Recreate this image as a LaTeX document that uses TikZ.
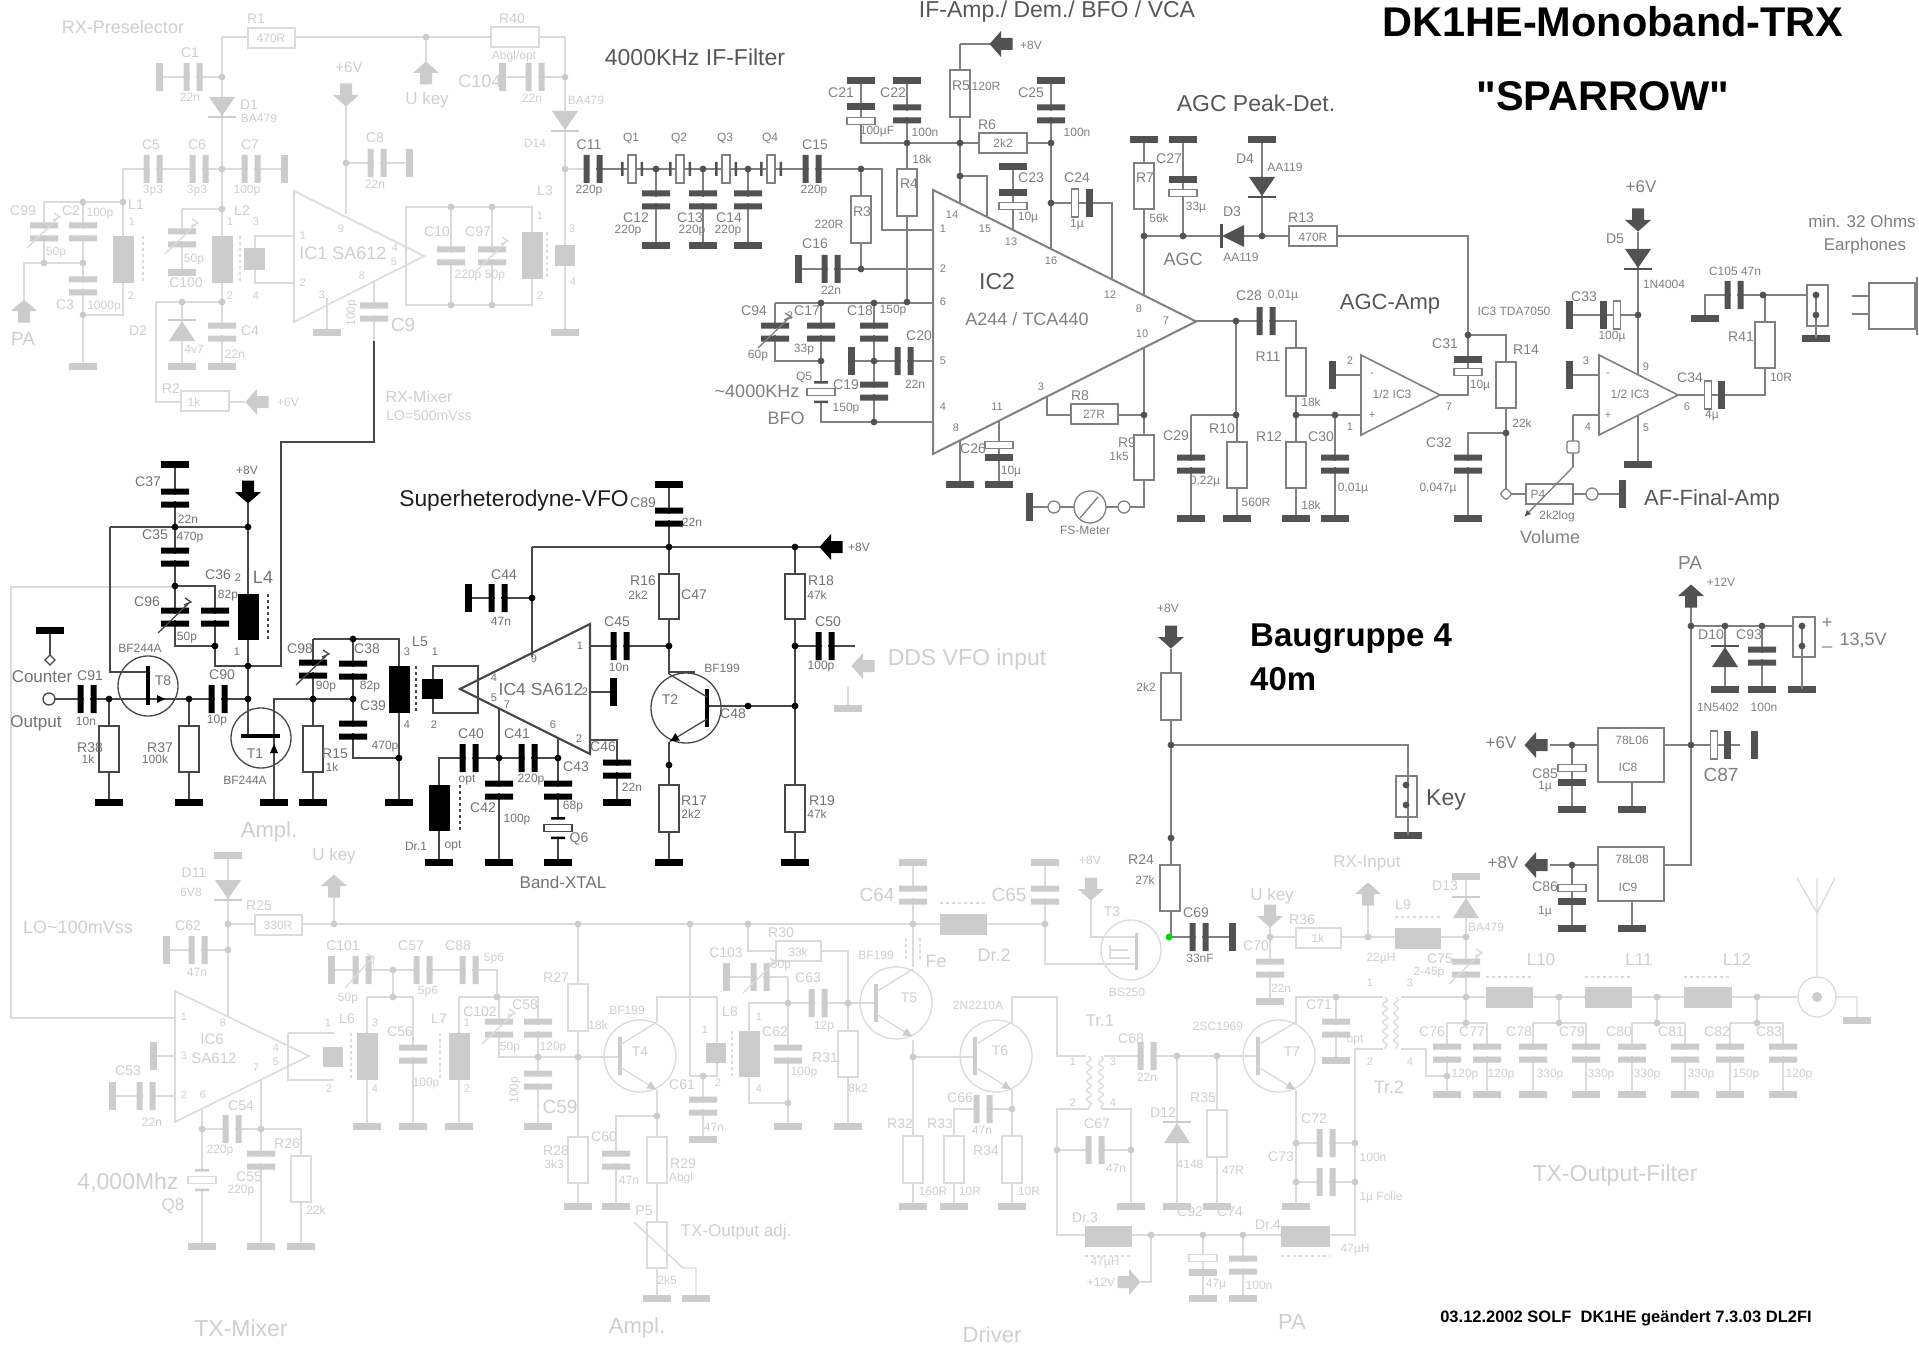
\documentclass[tikz,border=0pt]{standalone}
\usepackage{fontspec}
\setmainfont{Liberation Sans}
\newfontfamily\qfont{Liberation Sans}
\usetikzlibrary{arrows.meta,decorations.pathmorphing}
\newcounter{nn}
\newcommand\fs[1]{\fontsize{#1}{#1}\selectfont}
\newcommand\Hc[1]{\textcolor{black!66}{#1}}
\newcommand\Lb[4]{\stepcounter{nn}\node[lbl,font=\fs{#1}] (n\thenn) at (#2,#3) {#4};}
\newcommand\Rf[3]{\Lb{14}{#1}{#2}{#3}}
\newcommand\Vl[3]{\Lb{12}{#1}{#2}{#3}}
\newcommand\Pn[3]{\Lb{11}{#1}{#2}{#3}}
\newcommand\W[1]{\draw[wire] #1;}
\newcommand\Dots[1]{\foreach \p in {#1} \fill[cfil] \p circle (3.4);}
\newcommand\Gn[2]{\fill[cfil] (#1-14,#2-3.5) rectangle (#1+14,#2+3.5);}
\newcommand\Gv[2]{\fill[cfil] (#1-3.5,#2-14) rectangle (#1+3.5,#2+14);}
\newcommand\Cv[2]{\fill[white] (#1-14,#2-3) rectangle (#1+14,#2+3);\fill[cfil] (#1-14,#2-9.5) rectangle (#1+14,#2-3.5) (#1-14,#2+3.5) rectangle (#1+14,#2+9.5);}
\newcommand\Ch[2]{\fill[white] (#1-3,#2-14) rectangle (#1+3,#2+14);\fill[cfil] (#1-9.5,#2-14) rectangle (#1-3.5,#2+14) (#1+3.5,#2-14) rectangle (#1+9.5,#2+14);}
\newcommand\Ev[3]{\filldraw[wire,fill=white] (#1-14,#2-3.5) rectangle (#1+14,#2+3.5);\fill[cfil] (#1-14,#3-3.5) rectangle (#1+14,#3+3.5);}
\newcommand\Eh[3]{\filldraw[wire,fill=white] (#1-3.5,#3-14) rectangle (#1+3.5,#3+14);\fill[cfil] (#2-3.5,#3-14) rectangle (#2+3.5,#3+14);}
\newcommand\Rv[3]{\filldraw[wire,fill=white] (#1-10,#2) rectangle (#1+10,#3);}
\newcommand\Rh[3]{\filldraw[wire,fill=white] (#1,#3-10) rectangle (#2,#3+10);}
\newcommand\Lv[3]{\fill[cfil] (#1-10.5,#2) rectangle (#1+10.5,#3);}
\newcommand\Lh[3]{\fill[cfil] (#1,#3-10.5) rectangle (#2,#3+10.5);}
\newcommand\Da[3]{\draw[wire,dashed] (#1,#2)--(#1,#3);}
\newcommand\Dh[3]{\draw[wire,dashed] (#1,#3)--(#2,#3);}
\newcommand\Ddn[2]{\fill[cfil] (#1-13,#2)--(#1+13,#2)--(#1,#2+19)--cycle;\fill[cfil] (#1-14,#2+19) rectangle (#1+14,#2+21);}
\newcommand\Dup[2]{\fill[cfil] (#1-13,#2+20)--(#1+13,#2+20)--(#1,#2)--cycle;\fill[cfil] (#1-14,#2-2) rectangle (#1+14,#2);}
\newcommand\Pw[3]{\fill[cfil,shift={(#1,#2)},rotate=#3] (-6,-11.5)--(6,-11.5)--(6,0)--(13,0)--(0,11.5)--(-13,0)--(-6,0)--cycle;}
\newcommand\Trim[2]{\draw[wire] (#1-17,#2+16)--(#1+14,#2-14) (#1+10,#2-19)--(#1+16,#2-15)--(#1+9,#2-12);}
\newcommand\Qh[2]{\filldraw[wire,fill=white] (#1-4,#2-14) rectangle (#1+4,#2+14);\fill[cfil] (#1-11,#2-7) rectangle (#1-8.5,#2+7) (#1+8.5,#2-7) rectangle (#1+11,#2+7);}
\newcommand\Qv[2]{\fill[white] (#1-9,#2-9) rectangle (#1+9,#2+9);\filldraw[wire,fill=white] (#1-14,#2-3.5) rectangle (#1+14,#2+3.5);\fill[cfil] (#1-7,#2-11) rectangle (#1+7,#2-8.5) (#1-7,#2+8.5) rectangle (#1+7,#2+11);}
% transistor: centre, radius, bar x, wire x
\newcommand\TR[5]{\draw[wire] (#1,#2) circle (#3);\fill[cfil] (#4-2,#2-19) rectangle (#4+2,#2+19);\draw[wire] (#4,#2-11)--(#5,#2-34);\draw[wire,-{Latex[length=10pt,width=9pt,color=cfil]}] (#4,#2+11)--(#5,#2+34);}
\newcommand\Coil[3]{\draw[wire,decorate,decoration={snake,amplitude=2.5pt,segment length=9pt}] (#1,#2)--(#1,#3);}
\newcommand\Light{\colorlet{clin}{black!14}\colorlet{cfil}{black!20}\colorlet{ctxt}{black!19}}
\newcommand\Dark{\colorlet{clin}{black!50}\colorlet{cfil}{black!68}\colorlet{ctxt}{black!50}}
\newcommand\Blk{\colorlet{clin}{black!72}\colorlet{cfil}{black}\colorlet{ctxt}{black!55}}
\colorlet{clin}{black}\colorlet{cfil}{black}\colorlet{ctxt}{black}
\tikzset{wire/.style={draw=clin,line width=1.3pt},ic/.style={draw=clin,line width=1.6pt,line join=miter},lbl/.style={inner sep=0pt,text=ctxt,anchor=center}}
\begin{document}
\begin{tikzpicture}[x=1pt,y=-1pt]
\useasboundingbox (0,0) rectangle (1919,1348);
\fill[white] (0,0) rectangle (1919,1348);
%% ---------- RX preselector + mixer (light)
\begin{scope}
\Light
\W{(222,37)--(491,37) (539,37)--(565,37)--(565,332)}
\W{(222,37)--(222,302) (426,37)--(426,85)}
\W{(159,77)--(222,77) (502,77)--(565,77)}
\W{(123,206)--(123,169)--(284,169)}
\W{(44,202)--(123,202) (44,202)--(44,263) (83,202)--(83,366)}
\W{(24,300)--(24,263)--(83,263) (83,315)--(123,315)--(123,283) (123,202)--(123,236)}
\W{(182,209)--(222,209) (182,209)--(182,273)}
\W{(156,302)--(222,302) (156,302)--(156,402)--(181,402) (229,402)--(245,402)}
\W{(182,302)--(182,366) (222,302)--(222,366)}
\W{(294,236)--(255,236)--(255,283)--(294,283)}
\W{(327,298)--(327,332) (346,214)--(346,106) (346,163)--(409,163)}
\W{(406,207)--(532,207)--(532,305)--(406,305)--cycle (451,207)--(451,305) (492,207)--(492,305)}
\W{(374,282)--(374,341)}
\W{(565,169)--(584,169)}
\W{(175,587)--(11,587)--(11,1018)--(175,1018)}
\draw[ic] (294,191)--(294,322)--(424,256)--cycle;
\Rh{248}{295}{38}\Rh{491}{539}{37}
\Ch{193}{77}\Gv{159}{77}\Ch{535}{77}\Gv{502}{77}
\Ddn{222}{97}\Ddn{565}{111}
\Ch{153}{169}\Ch{199}{169}\Ch{251}{169}\Gv{284}{169}
\Cv{44}{232}\Trim{44}{232}\Cv{83}{232}\Cv{83}{286}\Gn{83}{366}
\Lv{123}{236}{283}\Da{143}{236}{283}
\Cv{182}{238}\Trim{182}{238}\Gn{182}{273}
\Lv{222}{236}{283}\Da{240}{236}{283}
\Dup{182}{321}\Gn{182}{366}\Cv{222}{332}\Gn{222}{366}
\Rh{181}{229}{401}\Pw{257}{402}{-90}\Pw{24}{311}{180}\Pw{426}{73}{180}\Pw{346}{95}{0}
\fill[cfil] (244,248) rectangle (265,270);
\Gn{327}{332}\Ch{377}{163}\Gv{409}{163}
\Cv{451}{256}\Cv{492}{256}\Trim{492}{256}
\Lv{532}{232}{279}\Da{547}{232}{279}
\fill[cfil] (555,245) rectangle (575,266);\Gn{565}{332}
\Cv{374}{312}
\Dots{(426,37),(222,77),(565,77),(222,169),(222,209),(222,302),(182,302),(83,202),(123,202),(44,263),(83,263),(83,315),(346,163),(451,207),(492,207),(451,305),(492,305),(565,169)}
\Lb{18}{123}{27}{RX-Preselector}
\Rf{256}{19}{R1}\Vl{271}{38}{470R}\Rf{512}{19}{R40}\Vl{514}{56}{Abgl/opt}
\Rf{190}{53}{C1}\Vl{190}{97}{22n}\Rf{249}{105}{D1}\Vl{259}{118}{BA479}
\Rf{151}{145}{C5}\Vl{153}{191}{3p3}\Rf{197}{145}{C6}\Vl{197}{191}{3p3}\Rf{250}{145}{C7}\Vl{247}{191}{100p}
\Rf{23}{211}{C99}\Rf{71}{211}{C2}\Vl{100}{214}{100p}\Vl{56}{253}{50p}\Rf{65}{305}{C3}\Vl{104}{307}{1000p}
\Rf{136}{205}{L1}\Pn{132}{222}{1}\Pn{131}{296}{2}
\Lb{19}{23}{339}{PA}
\Rf{242}{211}{L2}\Pn{230}{222}{1}\Pn{256}{222}{3}\Pn{230}{296}{2}\Pn{256}{296}{4}
\Rf{186}{283}{C100}\Vl{194}{260}{50p}\Rf{138}{331}{D2}\Vl{194}{349}{4v7}\Rf{250}{331}{C4}\Vl{235}{354}{22n}
\Rf{171}{389}{R2}\Vl{194}{402}{1k}\Vl{288}{402}{+6V}
\Lb{18}{343}{253}{IC1 SA612}
\Pn{303}{236}{1}\Pn{303}{283}{2}\Pn{341}{229}{9}\Pn{395}{248}{4}\Pn{394}{262}{5}\Pn{362}{276}{8}\Pn{322}{295}{3}
\Lb{15}{349}{67}{+6V}\Rf{375}{138}{C8}\Vl{375}{184}{22n}
\Lb{17}{427}{100}{U key}\Lb{18}{480}{81}{C104}\Vl{532}{98}{22n}\Vl{586}{100}{BA479}\Vl{535}{143}{D14}
\Rf{437}{232}{C10}\Rf{478}{232}{C97}\Vl{468}{276}{220p}\Vl{495}{276}{50p}\Pn{540}{216}{1}\Pn{540}{296}{2}
\Rf{545}{191}{L3}\Pn{572}{229}{3}\Pn{573}{282}{4}
\stepcounter{nn}\node[lbl,font=\fs{12},rotate=90] (n\thenn) at (352,313) {100p};
\Lb{19}{403}{325}{C9}\Lb{16}{419}{397}{RX-Mixer}\Lb{14}{429}{416}{LO=500mVss}
%% ---------- TX section (light)
\W{(228,855)--(228,1016) (166,950)--(228,950) (228,924)--(255,924) (302,924)--(913,924) (334,897)--(334,924)}
\W{(175,1056)--(153,1056) (175,1096)--(112,1096)}
\W{(288,1033)--(334,1033) (288,1033)--(288,1080)--(334,1080)}
\W{(367,997)--(367,1126) (367,997)--(413,997)--(413,1126) (393,997)--(393,970) (331,970)--(497,970)--(497,997)}
\W{(459,997)--(459,1126) (459,997)--(538,997)--(538,1126) (499,997)--(499,1057)--(620,1057) (578,924)--(578,1206)}
\W{(657,1022)--(657,997)--(717,997)--(717,1076)--(690,1076)--(690,924) (703,1076)--(703,1139)}
\W{(657,1090)--(657,1298) (657,1116)--(616,1116)--(616,1206)}
\W{(634,1222)--(683,1268)--(696,1268)--(696,1298)}
\W{(749,1031)--(749,1003)--(848,1003)--(848,1126) (749,1077)--(749,1103)--(788,1103) (788,977)--(788,1126) (726,977)--(788,977)}
\W{(748,924)--(748,951)--(776,951) (821,951)--(848,951)--(848,1003) (848,1003)--(876,1003)}
\W{(913,862)--(913,967) (913,1040)--(913,1136) (913,1183)--(913,1206) (913,1057)--(975,1057)}
\W{(913,924)--(940,924) (987,924)--(1045,924) (1045,862)--(1045,964)--(1136,964)}
\W{(1012,1023)--(1012,997)--(1057,997)--(1057,1056)--(1086,1056) (1012,1090)--(1012,1206) (983,1109)--(1012,1109) (983,1109)--(954,1109)--(954,1206)}
\W{(1089,1109)--(1057,1109)--(1057,1235)--(1085,1235) (1101,1109)--(1131,1109)--(1131,1206) (1057,1150)--(1131,1150)}
\W{(1104,1056)--(1258,1056) (1177,1056)--(1177,1206) (1217,1056)--(1217,1206)}
\W{(1132,1235)--(1281,1235) (1330,1235)--(1355,1235)--(1355,1049)--(1383,1049) (1151,1235)--(1151,1282)--(1141,1282) (1203,1235)--(1203,1298) (1243,1235)--(1243,1298)}
\W{(1296,1025)--(1296,997)--(1383,997) (1296,1090)--(1296,1206) (1296,1143)--(1355,1143) (1296,1182)--(1355,1182) (1336,997)--(1336,1060)}
\W{(1401,997)--(1797,997) (1401,1049)--(1426,1049)--(1426,1076)--(1447,1076)}
\W{(1466,876)--(1466,1023) (1447,1023)--(1487,1023) (1533,1023)--(1586,1023) (1632,1023)--(1685,1023) (1730,1023)--(1783,1023) (1559,997)--(1559,1023) (1657,997)--(1657,1023) (1757,997)--(1757,1023)}
\foreach \x in {1447,1487,1533,1586,1632,1685,1730,1783} {\W{(\x,1023)--(\x,1094)}}
\W{(1817,878)--(1817,977) (1797,878)--(1817,913)--(1835,878) (1836,997)--(1857,997)--(1857,1020)}
\W{(1091,900)--(1091,937)--(1136,937) (1270,927)--(1270,1001) (1270,937)--(1466,937) (1368,905)--(1368,937)}
\draw[ic] (175,991)--(175,1122)--(309,1056)--cycle;
\W{(202,1108)--(202,1246) (261,1080)--(261,1246) (202,1129)--(301,1129)--(301,1246)}
\Gn{228}{855}\Ddn{228}{880}\Ch{198}{950}\Gv{166}{950}\Rh{255}{302}{925}\Pw{334}{886}{180}
\Gv{153}{1056}\Ch{146}{1096}\Gv{112}{1096}
\fill[cfil] (323,1047) rectangle (343,1067);
\Lv{367}{1033}{1080}\Da{351}{1033}{1080}\Gn{367}{1126}\Cv{413}{1054}\Gn{413}{1126}\Lv{459}{1033}{1080}\Da{440}{1033}{1080}\Gn{459}{1126}
\Ch{362}{970}\Gv{331}{970}\draw[wire] (345,988)--(372,958) (367,954)--(374,957)--(373,964);\Ch{423}{970}\Ch{469}{970}
\Cv{499}{1028}\Trim{499}{1028}\Cv{538}{1028}\Cv{538}{1080}\Gn{538}{1126}
\Rv{578}{984}{1031}\Rv{578}{1137}{1183}\Gn{578}{1206}\Cv{616}{1160}\Gn{616}{1206}
\Rv{657}{1137}{1183}\filldraw[wire,fill=white] (647,1222) rectangle (667,1268);\W{(634,1222)--(683,1268)}\Gn{657}{1298}\Gn{696}{1298}
\TR{640}{1056}{36}{620}{657}
\fill[cfil] (706,1043) rectangle (726,1063);\Cv{703}{1106}\Gn{703}{1139}
\Lv{749}{1031}{1077}\Da{732}{1031}{1077}\Cv{788}{1054}\Gn{788}{1126}\Ch{760}{977}\Gv{726}{977}\Trim{760}{977}
\Rh{776}{821}{951}\Rv{848}{1031}{1077}\Gn{848}{1126}\Ch{818}{1003}
\TR{896}{1003}{36}{876}{913}
\Da{906}{938}{960}\Da{920}{938}{960}
\Rv{913}{1136}{1183}\Gn{913}{1206}
\Gn{913}{862}\Cv{913}{895}\Gn{1045}{862}\Cv{1045}{895}\Lh{940}{987}{924}\Dh{940}{987}{903}
\draw[wire] (1131,950) circle (30);\fill[cfil] (1134.5,933) rectangle (1137.5,970);\W{(1110,950)--(1128,950) (1110,945)--(1110,958)--(1130,958)}
\Pw{1091}{889}{0}
\TR{996}{1056}{36}{975}{1012}
\Rv{1012}{1136}{1183}\Gn{1012}{1206}\Ch{983}{1109}\Rv{954}{1136}{1183}\Gn{954}{1206}
\Coil{1089}{1056}{1109}\Coil{1101}{1056}{1109}
\Ch{1095}{1150}\Gn{1131}{1206}\Ch{1147}{1056}\Dup{1177}{1123}\Gn{1177}{1206}\Rv{1217}{1110}{1157}\Gn{1217}{1206}
\Lh{1085}{1132}{1236}\Dh{1085}{1132}{1256}\Lh{1281}{1330}{1236}\Dh{1281}{1330}{1256}
\Pw{1129}{1282}{90}\Ev{1203}{1258}{1272}\Gn{1203}{1298}\Cv{1243}{1265}\Gn{1243}{1298}
\TR{1279}{1056}{36}{1258}{1296}
\Ch{1326}{1143}\Ch{1326}{1182}\Gn{1296}{1206}\Cv{1336}{1028}\Gn{1336}{1060}
\Coil{1385}{997}{1049}\Coil{1396}{997}{1049}
\Lh{1486}{1533}{997}\Lh{1585}{1632}{997}\Lh{1684}{1732}{997}\Dh{1486}{1533}{977}\Dh{1585}{1632}{977}\Dh{1684}{1732}{977}
\foreach \x in {1447,1487,1533,1586,1632,1685,1730,1783} {\Cv{\x}{1053}\Gn{\x}{1094}}
\filldraw[wire,fill=white] (1817,997) ellipse (19 and 20);\fill[cfil] (1817,997) circle (5);\Gn{1857}{1020}
\Pw{1270}{916}{0}\Rh{1296}{1341}{938}\Pw{1368}{894}{180}\Lh{1395}{1441}{938}\Dh{1395}{1441}{917}\Cv{1270}{968}\Gn{1270}{1001}
\Gn{1466}{876}\Dup{1466}{898}\Cv{1466}{968}\Trim{1466}{968}
\Ch{232}{1129}\Cv{261}{1160}\Gn{261}{1246}\Qv{202}{1180}\Gn{202}{1246}\Rv{301}{1156}{1202}\Gn{301}{1246}
\Dots{(228,924),(228,950),(334,924),(393,997),(393,970),(497,997),(538,1057),(578,924),(578,1057),(690,924),(748,924),(703,1076),(788,1003),(848,1003),(788,1103),(657,1116),(913,924),(1045,924),(913,1057),(1012,1109),(1057,1150),(1131,1150),(1177,1056),(1217,1056),(1151,1235),(1203,1235),(1243,1235),(1296,1143),(1296,1182),(1355,1143),(1355,1182),(1336,997),(1270,937),(1368,937),(1466,937),(1466,997),(1559,997),(1657,997),(1757,997),(1466,1023),(1559,1023),(1657,1023),(1757,1023),(1447,1076),(202,1129),(261,1129)}
\Pw{863}{666}{-90}\W{(848,687)--(848,705)}\fill[cfil] (834,705) rectangle (862,712);
\Lb{23}{967}{660}{DDS VFO input}
\Lb{22}{269}{832}{Ampl.}\Lb{17}{334}{856}{U key}\Rf{194}{873}{D11}\Vl{191}{892}{6V8}\Rf{259}{906}{R25}\Vl{278}{925}{330R}
\Lb{18}{78}{927}{LO\textasciitilde 100mVss}\Rf{188}{926}{C62}\Vl{197}{972}{47n}
\Lb{15}{212}{1039}{IC6}\Lb{15}{214}{1058}{SA612}\Pn{184}{1017}{1}\Pn{223}{1023}{8}\Pn{184}{1056}{3}\Pn{184}{1095}{2}\Pn{203}{1095}{6}\Pn{256}{1068}{7}\Pn{276}{1048}{4}\Pn{276}{1062}{5}
\Rf{128}{1071}{C53}\Vl{152}{1122}{22n}\Rf{241}{1106}{C54}\Vl{220}{1151}{220p}\Rf{249}{1177}{C55}\Vl{241}{1191}{220p}\Rf{287}{1144}{R26}\Vl{316}{1210}{22k}
\Lb{23}{128}{1183}{4,000Mhz}\Lb{17}{173}{1206}{Q8}\Lb{23}{241}{1328}{TX-Mixer}
\Rf{343}{946}{C101}\Vl{348}{999}{50p}\Rf{411}{946}{C57}\Vl{428}{992}{5p6}\Rf{458}{946}{C88}\Vl{494}{959}{5p6}
\Rf{347}{1019}{L6}\Pn{328}{1023}{1}\Pn{375}{1023}{3}\Pn{329}{1089}{2}\Pn{375}{1089}{4}\Rf{400}{1032}{C56}\Vl{426}{1084}{100p}
\Rf{439}{1019}{L7}\Pn{467}{1023}{1}\Pn{467}{1089}{2}\Rf{480}{1012}{C102}\Vl{510}{1048}{50p}\Rf{525}{1005}{C58}\Vl{553}{1048}{120p}
\stepcounter{nn}\node[lbl,font=\fs{12},rotate=90] (n\thenn) at (515,1090) {100p};
\Lb{19}{560}{1107}{C59}\Rf{556}{978}{R27}\Vl{598}{1025}{18k}\Rf{556}{1151}{R28}\Vl{554}{1164}{3k3}\Vl{627}{1010}{BF199}\Rf{640}{1052}{T4}
\Rf{604}{1137}{C60}\Vl{629}{1180}{47n}\Rf{683}{1164}{R29}\Vl{681}{1178}{Abgl}\Rf{644}{1211}{P5}\Vl{667}{1280}{2k5}\Lb{17}{736}{1232}{TX-Output adj.}\Lb{22}{637}{1328}{Ampl.}
\Pn{705}{1030}{1}\Pn{718}{1083}{2}\Rf{730}{1012}{L8}\Rf{682}{1085}{C61}\Vl{714}{1127}{47n}\Pn{759}{1017}{1}\Pn{759}{1089}{4}\Rf{775}{1032}{C62}\Vl{804}{1073}{100p}
\Rf{726}{953}{C103}\Vl{781}{966}{50p}\Rf{781}{933}{R30}\Vl{798}{952}{33k}\Rf{825}{1058}{R31}\Vl{858}{1088}{8k2}\Rf{808}{978}{C63}\Vl{824}{1027}{12p}
\Vl{876}{955}{BF199}\Rf{909}{998}{T5}\Lb{18}{936}{961}{Fe}\Rf{900}{1124}{R32}\Vl{933}{1191}{160R}
\Lb{19}{877}{895}{C64}\Lb{19}{1009}{895}{C65}\Lb{18}{994}{955}{Dr.2}\Rf{1112}{912}{T3}\Vl{1127}{992}{BS250}\Vl{1090}{860}{+8V}
\Vl{978}{1005}{2N2210A}\Rf{1000}{1051}{T6}\Rf{986}{1151}{R34}\Vl{1029}{1191}{10R}\Rf{960}{1098}{C66}\Vl{982}{1130}{47n}\Rf{940}{1124}{R33}\Vl{970}{1191}{10R}
\Lb{17}{1100}{1021}{Tr.1}\Pn{1073}{1062}{1}\Pn{1113}{1062}{3}\Pn{1073}{1103}{2}\Pn{1113}{1103}{4}\Rf{1097}{1124}{C67}\Vl{1116}{1168}{47n}
\Rf{1131}{1039}{C68}\Vl{1147}{1077}{22n}\Rf{1163}{1113}{D12}\Vl{1190}{1164}{4148}\Rf{1203}{1098}{R35}\Vl{1233}{1170}{47R}\Vl{1218}{1026}{2SC1969}\Rf{1292}{1052}{T7}
\Rf{1085}{1218}{Dr.3}\Vl{1105}{1263}{47µH}\Vl{1101}{1282}{+12V}\Rf{1190}{1212}{C92}\Vl{1216}{1285}{47µ}\Rf{1230}{1212}{C74}\Vl{1259}{1285}{100n}
\Rf{1268}{1225}{Dr.4}\Vl{1355}{1250}{47µH}\Rf{1314}{1119}{C72}\Rf{1281}{1157}{C73}\Vl{1373}{1157}{100n}\Vl{1381}{1197}{1µ Folie}\Rf{1319}{1005}{C71}\Vl{1355}{1040}{opt}
\Lb{22}{1292}{1322}{PA}\Lb{22}{992}{1335}{Driver}\Lb{18}{1389}{1087}{Tr.2}\Pn{1370}{983}{1}\Pn{1410}{983}{3}\Pn{1370}{1062}{2}\Pn{1410}{1062}{4}
\Lb{17}{1272}{896}{U key}\Rf{1302}{920}{R36}\Vl{1318}{938}{1k}\Rf{1256}{946}{C70}\Vl{1281}{988}{22n}\Lb{17}{1367}{863}{RX-Input}\Rf{1403}{905}{L9}\Vl{1381}{959}{22µH}
\Rf{1445}{886}{D13}\Vl{1486}{927}{BA479}\Rf{1440}{959}{C75}\Vl{1429}{973}{2-45p}
\Lb{17}{1541}{960}{L10}\Lb{17}{1639}{960}{L11}\Lb{17}{1737}{960}{L12}
\Rf{1432}{1032}{C76}\Rf{1472}{1032}{C77}\Rf{1519}{1032}{C78}\Rf{1572}{1032}{C79}\Rf{1619}{1032}{C80}\Rf{1671}{1032}{C81}\Rf{1717}{1032}{C82}\Rf{1769}{1032}{C83}
\Vl{1465}{1075}{120p}\Vl{1501}{1075}{120p}\Vl{1550}{1075}{330p}\Vl{1601}{1075}{330p}\Vl{1647}{1075}{330p}\Vl{1701}{1075}{330p}\Vl{1746}{1075}{150p}\Vl{1799}{1075}{120p}
\Lb{23}{1615}{1176}{TX-Output-Filter}
\end{scope}
%% ---------- IF / AGC / AF / power (dark)
\begin{scope}
\Dark
\W{(593,169)--(861,169) (861,169)--(882,169)--(882,230)--(933,230) (861,169)--(861,269) (798,269)--(933,269)}
\W{(907,142)--(907,302) (775,303)--(933,303) (775,303)--(775,361)--(821,361)}
\W{(656,169)--(656,246) (703,169)--(703,246) (748,169)--(748,246)}
\W{(861,81)--(861,143)--(1051,143) (907,81)--(907,143) (1051,81)--(1051,249) (960,44)--(960,203) (960,44)--(990,44) (960,176)--(987,176)--(987,217) (1013,167)--(1013,230)}
\W{(1051,203)--(1112,203)--(1112,279)}
\W{(821,303)--(821,422)--(933,422) (874,303)--(874,422) (851,361)--(933,361)}
\W{(960,440)--(960,484) (999,421)--(999,484) (1047,397)--(1047,415)--(1144,415)}
\W{(1144,347)--(1144,507)--(1130,507) (1029,507)--(1048,507) (1060,507)--(1074,507) (1106,507)--(1118,507)}
\W{(1144,140)--(1144,295) (1144,236)--(1222,236) (1183,140)--(1183,236) (1262,140)--(1262,236) (1244,236)--(1468,236)--(1468,395)--(1440,395)}
\W{(1196,321)--(1296,321)--(1296,518) (1236,321)--(1236,415) (1191,415)--(1236,415) (1191,415)--(1191,518) (1237,415)--(1237,518)}
\W{(1296,415)--(1361,415) (1335,415)--(1335,518) (1361,375)--(1332,375)}
\W{(1468,335)--(1506,335)--(1506,489) (1506,433)--(1468,433)--(1468,518) (1511,494)--(1586,494) (1598,494)--(1622,494)}
\W{(1573,415)--(1599,415) (1573,415)--(1573,442) (1573,453)--(1573,467)}
\W{(1638,232)--(1638,375) (1569,315)--(1638,315) (1599,375)--(1569,375) (1638,415)--(1638,464)}
\W{(1678,395)--(1765,395)--(1765,295) (1705,318)--(1705,295)--(1816,295) (1816,295)--(1816,338)}
\W{(1852,296)--(1869,296) (1852,314)--(1869,314)}
\draw[wire] (1869,283) rectangle (1915,329);\W{(1917,277)--(1917,335)}
\W{(1171,649)--(1171,937) (1171,745)--(1408,745)--(1408,835) (1169,937)--(1232,937)}
\W{(1691,607)--(1691,865)--(1664,865) (1664,745)--(1740,745) (1691,626)--(1802,626)--(1802,689) (1725,626)--(1725,689) (1762,626)--(1762,689)}
\W{(1550,745)--(1598,745) (1550,865)--(1598,865) (1572,745)--(1572,809) (1572,865)--(1572,928) (1632,782)--(1632,809) (1632,901)--(1632,928)}
\draw[ic,line width=2pt] (933,190)--(933,454)--(1196,321.5)--cycle;
\draw[ic] (1361,355)--(1361,435)--(1440,395)--cycle;
\draw[ic] (1599,355)--(1599,435)--(1678,395)--cycle;
\draw[wire,line width=2pt] (1598,728) rectangle (1664,782) (1598,847) rectangle (1664,901);
\Ch{593}{169}
\Ch{812}{169}\Cv{656}{200}\Cv{703}{200}\Cv{748}{200}\Gn{656}{246}\Gn{703}{246}\Gn{748}{246}
\Qh{632}{169}\Qh{680}{169}\Qh{726}{169}\Qh{771}{169}
\Rv{861}{196}{243}\Ch{831}{269}\Gv{798}{269}\Rv{907}{169}{216}
\Gn{861}{81}\Ev{861}{121}{107}\Gn{907}{81}\Cv{907}{114}\Gn{1051}{81}\Cv{1051}{114}
\Rv{960}{70}{117}\Rh{979}{1027}{143}\Pw{1001}{44}{-90}
\Gn{1013}{167}\Ev{1013}{206}{193}\Eh{1075}{1089}{203}
\Cv{775}{332}\Trim{775}{332}\Cv{821}{332}\Cv{874}{332}\Qv{821}{392}\Cv{874}{391}\Gv{851}{361}\Ch{904}{361}
\Gn{960}{484}\Ev{999}{445}{457}\Gn{999}{484}\Rh{1071}{1118}{414}\Rv{1144}{435}{480}
\draw[wire,fill=white] (1054,507) circle (6) (1124,507) circle (6);\draw[wire,fill=white] (1090,507) circle (16);\W{(1080,518)--(1098,497)}\Gv{1029}{507}
\Gn{1144}{140}\Rv{1144}{163}{209}\Gn{1183}{140}\Ev{1183}{193}{180}
\fill[cfil] (1222,236)--(1244,225)--(1244,247)--cycle;\fill[cfil] (1220,224) rectangle (1223,248);
\Gn{1262}{140}\Ddn{1262}{177}
\Rh{1289}{1337}{236}
\Ch{1266}{321}\Cv{1191}{464}\Gn{1191}{518}\Rv{1237}{442}{488}\Gn{1237}{518}
\Rv{1296}{348}{396}\Rv{1296}{442}{488}\Gn{1296}{518}\Cv{1335}{464}\Gn{1335}{518}\Gv{1332}{375}
\Ev{1468}{372}{359}\Rv{1506}{362}{408}\Cv{1468}{464}\Gn{1468}{518}
\draw[wire,fill=white,rounded corners=2pt] (1506,488)--(1512,494)--(1506,500)--(1500,494)--cycle;
\Rh{1526}{1573}{494}\draw[wire,fill=white] (1592,494) circle (6);\Gv{1622}{494}
\draw[wire,fill=white,rounded corners=2pt] (1567,441) rectangle (1579,453);
\draw[wire,-{Latex[length=7pt,width=6pt,color=cfil]}] (1573,467)--(1524,517);
\Pw{1638}{220}{0}\Ddn{1638}{249}\Eh{1617}{1603}{315}\Gv{1569}{315}\Gv{1569}{375}\Gn{1638}{464}
\Eh{1708}{1721}{395}\Rv{1765}{322}{368}\Ch{1734}{295}\Gn{1705}{318}
\filldraw[wire,fill=white] (1807,285) rectangle (1828,326);\Gn{1816}{338}
\Pw{1171}{637}{0}\Rv{1171}{673}{720}\Rv{1170}{865}{911}\Ch{1199}{937}\Gv{1232}{937}
\filldraw[wire,fill=white] (1396,776) rectangle (1417,817);\Gn{1408}{835}
\Pw{1691}{596}{180}\Dup{1725}{647}\Gn{1725}{689}\Cv{1762}{656}\Gn{1762}{689}
\filldraw[wire,fill=white] (1793,617) rectangle (1815,657);\Gn{1802}{689}
\W{(1802,626)--(1802,689)}
\Pw{1536}{745}{-90}\Pw{1536}{865}{-90}\Ev{1572}{768}{782}\Gn{1572}{809}\Ev{1572}{888}{901}\Gn{1572}{928}\Gn{1632}{809}\Gn{1632}{928}
\Eh{1714}{1727}{745}\Gv{1754}{745}
\W{(1408,745)--(1408,835) (1816,295)--(1816,338)}
\Dots{(656,169),(703,169),(748,169),(861,169),(861,269),(907,143),(960,143),(960,176),(1051,143),(1051,203),(821,303),(874,303),(907,302),(821,361),(874,361),(874,422),(1144,236),(1183,236),(1262,236),(1144,415),(1236,321),(1236,415),(1296,415),(1335,415),(1468,335),(1506,433),(1638,315),(1763,295),(1816,295),(1816,315),(1171,745),(1171,838),(1406,785),(1406,805),(1691,626),(1725,626),(1762,626),(1802,626),(1802,646),(1691,745),(1572,745),(1572,865)}
\fill[green!85!black] (1169,937) circle (3.4);
\Lb{23}{1057}{12}{\Hc{IF-Amp./ Dem./ BFO / VCA}}\Lb{23}{695}{57}{\Hc{4000KHz IF-Filter}}\Lb{23}{1256}{103}{\Hc{AGC Peak-Det.}}
\Rf{589}{145}{C11}\Vl{589}{191}{220p}\Vl{631}{138}{Q1}\Vl{679}{138}{Q2}\Vl{725}{138}{Q3}\Vl{770}{138}{Q4}
\Rf{636}{218}{C12}\Vl{628}{231}{220p}\Rf{690}{218}{C13}\Vl{692}{231}{220p}\Rf{729}{218}{C14}\Vl{728}{231}{220p}
\Rf{815}{145}{C15}\Vl{814}{191}{220p}\Vl{829}{224}{220R}\Rf{862}{212}{R3}\Rf{815}{244}{C16}\Vl{831}{290}{22n}
\Vl{922}{159}{18k}\Rf{909}{184}{R4}\Rf{841}{93}{C21}\Rf{893}{93}{C22}\Vl{877}{132}{100µF}\Vl{925}{132}{100n}
\Rf{961}{86}{R5}\Vl{986}{86}{120R}\Vl{1031}{45}{+8V}\Rf{987}{125}{R6}\Vl{1003}{143}{2k2}\Rf{1031}{93}{C25}\Vl{1077}{132}{100n}
\Rf{1031}{178}{C23}\Vl{1028}{218}{10µ}\Rf{1077}{178}{C24}\Vl{1077}{225}{1µ}
\Pn{952}{215}{14}\Pn{943}{229}{1}\Pn{985}{229}{15}\Pn{1011}{242}{13}\Pn{1051}{261}{16}\Pn{943}{269}{2}\Pn{943}{302}{6}\Pn{1110}{295}{12}\Pn{1139}{309}{8}\Pn{1166}{321}{7}\Pn{1142}{334}{10}\Pn{943}{361}{5}\Pn{1041}{387}{3}\Pn{943}{407}{4}\Pn{997}{407}{11}\Pn{956}{428}{8}
\Lb{23}{997}{282}{\Hc{IC2}}\Lb{18}{1027}{319}{A244 / TCA440}
\Rf{754}{311}{C94}\Vl{758}{356}{60p}\Pn{790}{316}{3}\Rf{807}{311}{C17}\Vl{804}{350}{33p}\Rf{860}{311}{C18}\Vl{893}{311}{150p}
\Vl{804}{377}{Q5}\Rf{846}{385}{C19}\Vl{846}{409}{150p}\Rf{919}{336}{C20}\Vl{915}{384}{22n}
\Lb{18}{757}{391}{\textasciitilde 4000KHz}\Lb{18}{786}{418}{BFO}
\Rf{973}{449}{C26}\Vl{1011}{472}{10µ}\Rf{1080}{396}{R8}\Vl{1094}{414}{27R}\Rf{1127}{443}{R9}\Vl{1119}{456}{1k5}\Vl{1085}{530}{FS-Meter}
\Rf{1145}{178}{R7}\Vl{1159}{218}{56k}\Rf{1169}{159}{C27}\Vl{1196}{208}{33µ}\Rf{1232}{212}{D3}\Vl{1241}{257}{AA119}\Lb{18}{1183}{259}{AGC}\Rf{1245}{159}{D4}\Vl{1285}{167}{AA119}
\Rf{1301}{218}{R13}\Vl{1313}{237}{470R}\Lb{22}{1390}{304}{\Hc{AGC-Amp}}\Vl{1514}{311}{IC3 TDA7050}
\Rf{1526}{350}{R14}\Vl{1522}{423}{22k}\Rf{1439}{443}{C32}\Vl{1438}{489}{0,047µ}\Rf{1445}{344}{C31}\Vl{1480}{386}{10µ}
\Pn{1449}{407}{7}\Pn{1350}{361}{2}\Pn{1350}{427}{1}\Pn{1372}{375}{-}\Pn{1372}{415}{+}\Vl{1392}{394}{1/2 IC3}
\Rf{1249}{296}{C28}\Vl{1283}{296}{0,01µ}\Rf{1268}{357}{R11}\Vl{1311}{402}{18k}\Rf{1269}{437}{R12}\Vl{1311}{505}{18k}\Rf{1321}{437}{C30}\Vl{1353}{489}{0,01µ}
\Rf{1176}{436}{C29}\Vl{1205}{482}{0,22µ}\Rf{1222}{429}{R10}\Vl{1256}{502}{560R}
\Lb{17}{1641}{187}{+6V}\Rf{1615}{239}{D5}\Vl{1664}{284}{1N4004}\Rf{1584}{297}{C33}\Vl{1612}{337}{100µ}
\Pn{1608}{375}{-}\Pn{1608}{415}{+}\Vl{1630}{394}{1/2 IC3}\Pn{1586}{361}{3}\Pn{1588}{427}{4}\Pn{1646}{367}{9}\Pn{1687}{407}{6}\Pn{1646}{428}{5}
\Rf{1690}{378}{C34}\Vl{1712}{416}{4µ}\Rf{1741}{337}{R41}\Vl{1781}{377}{10R}\Vl{1735}{271}{C105 47n}
\Lb{17}{1862}{221}{min. 32 Ohms}\Lb{17}{1865}{246}{Earphones}
\Vl{1538}{494}{P4}\Vl{1557}{516}{2k2log}\Lb{18}{1550}{537}{Volume}\Lb{22}{1712}{500}{\Hc{AF-Final-Amp}}
\Vl{1168}{608}{+8V}\Vl{1146}{687}{2k2}\Rf{1141}{860}{R24}\Vl{1145}{880}{27k}\Rf{1196}{913}{C69}\Vl{1200}{958}{33nF}
\Lb{23}{1446}{800}{\Hc{Key}}
\Lb{19}{1690}{563}{PA}\Vl{1721}{582}{+12V}\Lb{18}{1827}{623}{+}\Lb{18}{1827}{646}{\_}\Lb{18}{1863}{640}{13,5V}
\Rf{1711}{635}{D10}\Vl{1718}{707}{1N5402}\Rf{1749}{635}{C93}\Vl{1764}{707}{100n}
\Vl{1632}{740}{78L06}\Vl{1628}{767}{IC8}\Vl{1632}{859}{78L08}\Vl{1628}{887}{IC9}
\Lb{17}{1501}{743}{+6V}\Lb{17}{1503}{863}{+8V}\Rf{1545}{774}{C85}\Vl{1545}{787}{1µ}\Rf{1545}{887}{C86}\Vl{1545}{912}{1µ}\Lb{19}{1721}{775}{C87}
\end{scope}
%% ---------- VFO (black)
\begin{scope}
\Blk
\W{(374,341)--(374,442)--(281,442)--(281,666)--(215,666)--(215,586)--(175,586)}
\W{(175,464)--(175,646)--(215,646) (110,527)--(248,527) (248,503)--(248,699)}
\W{(110,527)--(110,672)--(148,672) (55,699)--(248,699) (50,630)--(50,655)}
\W{(109,699)--(109,802) (189,699)--(189,802)}
\W{(248,699)--(248,736) (274,802)--(274,699)--(353,699) (313,639)--(399,639)--(399,802) (313,639)--(313,802) (353,639)--(353,758)--(399,758)}
\W{(433,666)--(478,666)--(478,713)--(433,713)--cycle}
\W{(532,547)--(532,657) (468,598)--(532,598) (532,547)--(820,547) (669,484)--(669,674) (669,742)--(669,862) (590,646)--(669,646) (590,692)--(613,692)}
\W{(795,547)--(795,862) (795,646)--(855,646) (707,706)--(795,706)}
\W{(499,708)--(499,862) (439,862)--(439,758)--(558,758) (558,738)--(558,862) (590,740)--(617,740)--(617,802) (670,672)--(695,672)}
\draw[ic,line width=2.2pt] (460,689)--(590,624)--(590,754)--cycle;
\Gn{175}{464}\Cv{175}{498}\Cv{175}{557}\Cv{175}{617}\Trim{175}{617}\Cv{215}{617}
\Lv{248}{594}{640}\Da{268}{594}{640}\Pw{248}{492}{0}
\Gn{50}{630}\draw[wire,fill=white] (50,655)--(55,660)--(50,665)--(45,660)--cycle;
\draw[wire,fill=white] (49,699) circle (6);
\Ch{87}{699}\Ch{218}{699}
\draw[wire] (148,686) circle (30);\fill[cfil] (146,666) rectangle (150,705);
\fill[cfil] (157,695)--(165,699)--(157,703)--cycle;
\Rv{109}{726}{772}\Rv{189}{726}{772}\Gn{109}{802}\Gn{189}{802}
\draw[wire] (261,738) circle (30);\fill[cfil] (241,734) rectangle (280,738);
\fill[cfil] (274,744)--(270,753)--(278,753)--cycle;
\Gn{274}{802}
\Cv{313}{669}\Trim{313}{669}\Cv{353}{670}\Cv{353}{730}
\Rv{313}{726}{772}\Gn{313}{802}\Lv{399}{666}{713}\Da{416}{666}{713}\Gn{399}{802}
\fill[cfil] (422,679) rectangle (443,699);
\Ch{498}{598}\Gv{468}{598}\Gn{669}{484}\Cv{669}{517}\Pw{831}{547}{-90}
\Rv{669}{574}{619}\Ch{620}{646}\Gv{613}{692}
\TR{686}{708}{35}{707}{669}
\Rv{669}{785}{832}\Gn{669}{862}
\Rv{795}{574}{619}\Rv{795}{785}{832}\Gn{795}{862}\Ch{825}{646}
\Ch{469}{758}\Ch{528}{758}\Lv{439}{785}{831}\Da{460}{785}{831}\Gn{439}{862}
\Cv{499}{790}\Gn{499}{862}\Cv{558}{790}\Qv{558}{828}\Gn{558}{862}
\Cv{617}{769}\Gn{617}{802}
\Dots{(175,527),(248,527),(175,586),(215,646),(248,666),(248,699),(109,699),(189,699),(313,699),(353,699),(353,639),(399,758),(532,598),(669,547),(795,547),(669,646),(795,646),(748,706),(795,706),(669,765),(499,758),(558,758)}
\Rf{148}{482}{C37}\Vl{188}{519}{22n}\Rf{155}{535}{C35}\Vl{190}{538}{470p}\Rf{218}{575}{C36}\Pn{238}{578}{2}\Lb{18}{263}{577}{L4}\Vl{228}{596}{82p}
\Rf{147}{602}{C96}\Vl{187}{638}{50p}\Vl{140}{648}{BF244A}\Pn{237}{652}{1}\Vl{247}{470}{+8V}
\Lb{17}{42}{677}{Counter}\Lb{17}{36}{723}{Output}\Rf{90}{676}{C91}\Vl{86}{721}{10n}\Rf{222}{675}{C90}\Vl{217}{721}{10p}
\Rf{163}{681}{T8}\Rf{90}{748}{R38}\Vl{88}{759}{1k}\Rf{160}{748}{R37}\Vl{155}{759}{100k}
\Rf{255}{754}{T1}\Vl{245}{780}{BF244A}\Rf{300}{649}{C98}\Rf{367}{649}{C38}\Vl{370}{687}{82p}\Vl{326}{687}{90p}
\Rf{420}{642}{L5}\Pn{407}{652}{3}\Pn{435}{652}{1}\Pn{407}{725}{4}\Pn{434}{725}{2}
\Rf{373}{706}{C39}\Vl{385}{747}{470p}\Rf{335}{754}{R15}\Vl{332}{767}{1k}
\Lb{17.5}{541}{689}{IC4 SA612}\Pn{534}{659}{9}\Pn{494}{678}{4}\Pn{494}{698}{5}\Pn{580}{646}{1}\Pn{585}{692}{2}\Pn{507}{705}{7}\Pn{553}{725}{6}\Pn{579}{739}{2}
\Rf{504}{575}{C44}\Vl{501}{621}{47n}\Rf{643}{503}{C89}\Vl{692}{522}{22n}\Vl{859}{547}{+8V}
\Rf{643}{581}{R16}\Vl{638}{595}{2k2}\Rf{694}{595}{C47}\Rf{617}{622}{C45}\Vl{619}{667}{10n}\Rf{670}{700}{T2}\Vl{722}{668}{BF199}\Rf{733}{714}{C48}
\Rf{694}{801}{R17}\Vl{691}{814}{2k2}\Rf{821}{581}{R18}\Vl{817}{595}{47k}\Rf{822}{801}{R19}\Vl{817}{814}{47k}\Rf{828}{622}{C50}\Vl{821}{667}{100p}
\Rf{471}{734}{C40}\Vl{467}{780}{opt}\Vl{416}{846}{Dr.1}\Vl{453}{846}{opt}\Rf{517}{734}{C41}\Vl{531}{780}{220p}\Rf{483}{808}{C42}\Vl{517}{820}{100p}\Rf{576}{767}{C43}\Vl{573}{807}{68p}\Rf{579}{839}{Q6}
\Rf{603}{747}{C46}\Vl{632}{787}{22n}\Lb{17}{563}{882}{Band-XTAL}
\Lb{22.8}{514}{501}{\textcolor{black!88}{Superheterodyne-VFO}}
\colorlet{ctxt}{black}
\stepcounter{nn}\node[lbl,font=\fs{41.5}\bfseries] (n\thenn) at (1613,22) {DK1HE-Monoband-TRX};
\stepcounter{nn}\node[lbl,font=\qfont\fs{41.5}\bfseries] (n\thenn) at (1603,96) {"SPARROW"};
\stepcounter{nn}\node[lbl,font=\fs{33}\bfseries,anchor=west] (n\thenn) at (1250,639) {Baugruppe 4};
\stepcounter{nn}\node[lbl,font=\fs{33}\bfseries,anchor=west] (n\thenn) at (1250,679) {40m};
\stepcounter{nn}\node[lbl,font=\fs{16.5}\bfseries] (n\thenn) at (1626,1318) {03.12.2002 SOLF\ \ DK1HE geändert 7.3.03 DL2FI};
\end{scope}
\end{tikzpicture}
\end{document}
